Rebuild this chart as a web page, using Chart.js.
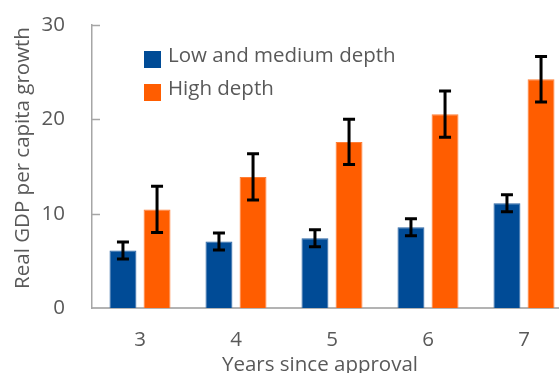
<!DOCTYPE html>
<html>
<head>
<meta charset="utf-8">
<script src="https://cdn.jsdelivr.net/npm/chart.js@4"></script>
<style>
  html, body { margin: 0; padding: 0; background: #fff; overflow: hidden; width: 559px; height: 373px; }
  #wrap { position: absolute; left: 0; top: 0; width: 572px; height: 373px; }
</style>
</head>
<body>
<div id="wrap"><canvas id="c" width="572" height="373"></canvas></div>
<script>
const categories = ['3', '4', '5', '6', '7'];
const lowMediumValues = [6.1, 7.05, 7.4, 8.55, 11.1];
const lowMediumErrors = [0.9, 0.9, 0.9, 0.9, 0.9];
const highValues = [10.45, 13.9, 17.6, 20.55, 24.25];
const highErrors = [2.45, 2.45, 2.4, 2.45, 2.4];
const yTicks = [0, 10, 20, 30];
const seriesLabels = ['Low and medium depth', 'High depth'];
const yTitle = 'Real GDP per capita growth';
const xTitle = 'Years since approval';

const FONT = '"Open Sans", Lato, sans-serif';
const TEXT = '#595959';
const AXIS = '#a6a6a6';

const errorBars = {
  id: 'errorBars',
  afterDatasetsDraw(chart) {
    const ctx = chart.ctx;
    const y = chart.scales.y;
    ctx.save();
    ctx.strokeStyle = '#000';
    ctx.lineWidth = 3;
    ctx.lineCap = 'butt';
    chart.data.datasets.forEach((ds, i) => {
      const meta = chart.getDatasetMeta(i);
      meta.data.forEach((bar, j) => {
        const v = ds.data[j], e = ds.errors[j];
        const yt = y.getPixelForValue(v + e), yb = y.getPixelForValue(v - e);
        ctx.beginPath();
        ctx.moveTo(bar.x, yt); ctx.lineTo(bar.x, yb);
        ctx.moveTo(bar.x - 6, yt); ctx.lineTo(bar.x + 6, yt);
        ctx.moveTo(bar.x - 6, yb); ctx.lineTo(bar.x + 6, yb);
        ctx.stroke();
      });
    });
    ctx.restore();
  }
};

const decorations = {
  id: 'decorations',
  afterDraw(chart) {
    const ctx = chart.ctx;
    const y = chart.scales.y;
    const area = chart.chartArea;
    ctx.save();
    ctx.strokeStyle = AXIS;
    ctx.lineWidth = 1.5;
    yTicks.forEach(t => {
      if (t === 0) return;
      const py = Math.round(y.getPixelForValue(t)) + 0.5;
      ctx.beginPath();
      ctx.moveTo(area.left, py); ctx.lineTo(area.left + 8, py);
      ctx.stroke();
    });
    ctx.font = '20.5px ' + FONT;
    ctx.textBaseline = 'alphabetic';
    ctx.textAlign = 'left';
    chart.data.datasets.forEach((ds, i) => {
      const top = 51 + i * 33;
      ctx.fillStyle = ds.backgroundColor;
      ctx.fillRect(144, top, 17, 17);
      ctx.fillStyle = TEXT;
      ctx.fillText(ds.label, 168, top + 11);
    });
    ctx.fillStyle = TEXT;
    ctx.textAlign = 'center';
    ctx.textBaseline = 'alphabetic';
    ctx.fillText(xTitle, 320, 371);
    ctx.save();
    ctx.translate(29, 158);
    ctx.rotate(-Math.PI / 2);
    ctx.fillText(yTitle, 0, 0);
    ctx.restore();
    ctx.restore();
  }
};

new Chart(document.getElementById('c'), {
  type: 'bar',
  data: {
    labels: categories,
    datasets: [
      { label: seriesLabels[0], data: lowMediumValues, errors: lowMediumErrors,
        backgroundColor: '#004B96', borderColor: '#2a64a4', borderWidth: 1 },
      { label: seriesLabels[1], data: highValues, errors: highErrors,
        backgroundColor: '#FF5D00', borderColor: '#ff7e36', borderWidth: 1 }
    ]
  },
  options: {
    responsive: false,
    animation: false,
    devicePixelRatio: 1,
    layout: { padding: { top: 25, right: 0, left: 0, bottom: 0 } },
    datasets: { bar: { categoryPercentage: 0.71, barPercentage: 0.79 } },
    plugins: { legend: { display: false }, tooltip: { enabled: false } },
    scales: {
      x: {
        grid: { display: false, drawTicks: false, tickLength: 0 },
        border: { display: true, color: '#b3b3b3', width: 2 },
        ticks: { color: TEXT, font: { family: FONT, size: 20.5 }, padding: 20 },
        afterFit(s) { s.height = 65; s.paddingLeft = 0; s.paddingRight = 0; }
      },
      y: {
        min: 0, max: 30,
        afterBuildTicks(s) { s.ticks = yTicks.map(v => ({ value: v })); },
        grid: { display: false, drawTicks: false, tickLength: 0 },
        border: { display: true, color: AXIS, width: 1.5 },
        ticks: { color: TEXT, font: { family: FONT, size: 20.5 }, padding: 27 },
        afterFit(s) { s.width = 92; s.paddingTop = 0; s.paddingBottom = 0; }
      }
    }
  },
  plugins: [errorBars, decorations]
});
</script>
</body>
</html>
